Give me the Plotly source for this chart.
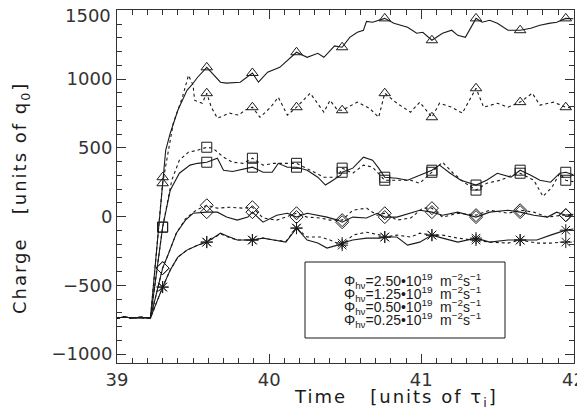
import plotly.graph_objects as go
import numpy as np

# ---------------- data ----------------
PRE_T = [39.00, 39.05, 39.10, 39.15, 39.22]
PRE_V = [-738, -731, -738, -733, -738]
MARK_T = [39.30, 39.59, 39.89, 40.18, 40.48, 40.76, 41.07, 41.36, 41.65, 41.95]

# Phi = 2.50e19 (triangles)
A_SOLID_T = [39.32, 39.35, 39.40, 39.46, 39.49, 39.53, 39.68, 39.72, 39.81, 39.93, 39.99, 40.07, 40.14,
             40.25, 40.32, 40.36, 40.43, 40.53, 40.58, 40.62, 40.64, 40.68, 40.82, 40.91, 40.97, 41.01,
             41.14, 41.20, 41.24, 41.29, 41.40, 41.45, 41.50, 41.57, 41.72, 41.78, 41.84, 41.89, 42.00]
A_SOLID_V = [482, 606, 773, 918, 955, 1013, 977, 970, 977, 977, 1050, 1085, 1151,
             1158, 1187, 1158, 1241, 1303, 1340, 1355, 1419, 1413, 1405, 1376, 1333, 1340,
             1333, 1355, 1318, 1303, 1413, 1427, 1405, 1355, 1369, 1391, 1405, 1413, 1438]
A_SOLID_MARK = [286, 1085, 1044, 1195, 1231, 1441, 1282, 1441, 1355, 1441]

A_DASH_T = [39.37, 39.43, 39.47, 39.50, 39.51, 39.56, 39.62, 39.66, 39.74, 39.80, 39.84, 39.94, 40.01,
            40.06, 40.12, 40.27, 40.36, 40.40, 40.45, 40.58, 40.66, 40.72, 40.84, 40.93, 40.99, 41.12,
            41.20, 41.27, 41.41, 41.50, 41.57, 41.73, 41.78, 41.87, 42.00]
A_DASH_V = [679, 868, 1028, 955, 846, 824, 795, 715, 752, 737, 773, 722, 795,
            868, 737, 897, 759, 845, 773, 832, 787, 722, 824, 759, 832, 824,
            795, 752, 795, 824, 795, 897, 810, 832, 787]
A_DASH_MARK = [242, 897, 795, 795, 773, 897, 722, 933, 832, 795]

# Phi = 1.25e19 (squares)
B_SOLID_T = [39.35, 39.41, 39.48, 39.53, 39.66, 39.70, 39.76, 39.86, 39.96, 40.02, 40.06, 40.12,
             40.25, 40.32, 40.37, 40.42, 40.47, 40.55, 40.62, 40.68, 40.72, 40.84, 40.91, 40.99, 41.12,
             41.19, 41.26, 41.43, 41.50, 41.59, 41.72, 41.78, 41.85, 41.91, 42.00]
B_SOLID_V = [192, 315, 374, 387, 424, 337, 328, 352, 322, 322, 387, 359,
             337, 286, 229, 264, 301, 352, 432, 410, 352, 279, 264, 301, 374,
             315, 264, 264, 315, 286, 301, 264, 250, 315, 304]
B_SOLID_MARK = [-77, 395, 359, 359, 322, 286, 337, 229, 337, 322]

B_DASH_T = [39.36, 39.41, 39.47, 39.53, 39.63, 39.70, 39.76, 39.83, 39.96, 40.03, 40.12, 40.27, 40.36,
            40.45, 40.55, 40.62, 40.68, 40.84, 40.93, 40.99, 41.14, 41.21, 41.28, 41.43, 41.52, 41.60,
            41.74, 41.80, 41.86, 41.91, 42.00]
B_DASH_V = [264, 410, 468, 482, 497, 432, 395, 387, 374, 387, 387, 337, 286,
            286, 315, 374, 359, 264, 264, 242, 395, 315, 250, 242, 264, 301,
            264, 146, 214, 315, 254]
B_DASH_MARK = [-77, 504, 424, 387, 352, 264, 322, 192, 315, 264]

# Phi = 0.50e19 (diamonds)
C_SOLID_T = [39.34, 39.39, 39.45, 39.50, 39.66, 39.72, 39.79, 39.86, 39.96, 40.05, 40.12, 40.25, 40.32,
             40.38, 40.45, 40.55, 40.64, 40.71, 40.84, 40.93, 40.99, 41.14, 41.24, 41.45, 41.57, 41.74,
             41.83, 41.89, 42.00]
C_SOLID_V = [-266, -121, -26, 24, 32, -4, -26, -4, -41, 10, 24, 24, 10,
             -4, -26, -4, -11, 24, -4, 24, 46, 10, 32, 32, 46, 10,
             -4, 32, 17]
C_SOLID_MARK = [-375, 32, 32, -4, -41, -4, 32, -4, 32, 10]

C_DASH_T = [39.34, 39.39, 39.45, 39.52, 39.66, 39.74, 39.83, 39.96, 40.05, 40.14, 40.25, 40.34, 40.40,
            40.55, 40.64, 40.71, 40.84, 40.93, 41.01, 41.14, 41.24, 41.45, 41.57, 41.74, 41.83, 41.93,
            42.00]
C_DASH_V = [-266, -121, -17, 46, 61, 68, 61, -11, -26, 10, -4, -11, -26,
            46, 61, 10, -26, -11, 61, -4, 24, 46, 24, 32, -4, 10,
            7]
C_DASH_MARK = [-375, 82, 68, 24, -26, 24, 61, 10, 46, 10]

# Phi = 0.25e19 (asterisks)
D_SOLID_T = [39.35, 39.40, 39.46, 39.53, 39.68, 39.72, 39.79, 39.96, 40.03, 40.11, 40.25, 40.32,
             40.38, 40.45, 40.55, 40.64, 40.73, 40.84, 40.91, 40.99, 41.14, 41.24, 41.45, 41.57, 41.76,
             41.85, 41.91, 42.00]
D_SOLID_V = [-389, -295, -244, -208, -121, -140, -171, -157, -171, -186, -171, -193,
             -229, -208, -171, -157, -157, -149, -208, -186, -157, -186, -186, -171, -171,
             -135, -114, -91]
D_SOLID_MARK = [-513, -186, -171, -84, -193, -149, -135, -157, -171, -99]

D_DASH_T = [39.35, 39.40, 39.46, 39.53, 39.68, 39.72, 39.79, 39.96, 40.03, 40.11, 40.25, 40.34,
            40.40, 40.55, 40.64, 40.73, 40.84, 40.93, 40.99, 41.14, 41.24, 41.45, 41.57, 41.76, 41.85,
            41.93, 42.00]
D_DASH_V = [-389, -295, -244, -208, -126, -145, -171, -157, -171, -180, -149, -149,
            -171, -135, -114, -135, -135, -149, -121, -135, -157, -186, -193, -193, -193,
            -186, -180]
D_DASH_MARK = [-513, -186, -171, -84, -208, -149, -135, -171, -171, -186]

X_TICKS = [39, 40, 41, 42]
Y_TICKS = [-1000, -500, 0, 500, 1000, 1500]
Y_TICK_TEXT = ["−1000", "−500", "0", "500", "1000", ""]   # top label drawn separately below
Y_TOP_LABEL = "1500"

LEGEND_LABELS = [
    "Φ<sub>hν</sub>=2.50•10<sup>19</sup>  m<sup>−2</sup>s<sup>−1</sup>",
    "Φ<sub>hν</sub>=1.25•10<sup>19</sup>  m<sup>−2</sup>s<sup>−1</sup>",
    "Φ<sub>hν</sub>=0.50•10<sup>19</sup>  m<sup>−2</sup>s<sup>−1</sup>",
    "Φ<sub>hν</sub>=0.25•10<sup>19</sup>  m<sup>−2</sup>s<sup>−1</sup>",
]
SYMBOLS = ["triangle-up-open", "square-open", "diamond-open", "asterisk-open"]

# ---------------- figure ----------------
# the page body keeps its default 8px margin, so the figure is sized to fit
OFF = 8
W, H = 585 - OFF, 416 - OFF
L, R, T, B = 117 - OFF, 11, 10 - OFF, 53
PW, PH = W - L - R, H - T - B
FONT = "DejaVu Sans"
LFONT = "Liberation Sans"
INK = "#1a1a1a"
TICKC = "#333"


def px2paper(px, py):
    """page pixel -> paper coordinate"""
    return (px - OFF - L) / PW, (H - B - (py - OFF)) / PH


def build(tl, vl, marks):
    t = np.array(PRE_T + MARK_T + tl)
    v = np.array(PRE_V + marks + vl)
    o = np.argsort(t, kind="stable")
    return t[o], v[o]


series = [
    (A_SOLID_T, A_SOLID_V, A_SOLID_MARK, A_DASH_T, A_DASH_V, A_DASH_MARK, SYMBOLS[0]),
    (B_SOLID_T, B_SOLID_V, B_SOLID_MARK, B_DASH_T, B_DASH_V, B_DASH_MARK, SYMBOLS[1]),
    (C_SOLID_T, C_SOLID_V, C_SOLID_MARK, C_DASH_T, C_DASH_V, C_DASH_MARK, SYMBOLS[2]),
    (D_SOLID_T, D_SOLID_V, D_SOLID_MARK, D_DASH_T, D_DASH_V, D_DASH_MARK, SYMBOLS[3]),
]

fig = go.Figure()
for st, sv, sm, dt, dv, dm, sym in series:
    for tl, vl, mk, dash in ((dt, dv, dm, "3px,3px"), (st, sv, sm, "solid")):
        t, v = build(tl, vl, mk)
        fig.add_trace(go.Scatter(x=t, y=v, mode="lines",
                                 line=dict(color=INK, width=1.1, dash=dash),
                                 showlegend=False, hoverinfo="skip"))
        fig.add_trace(go.Scatter(x=MARK_T, y=mk, mode="markers",
                                 marker=dict(symbol=sym, size=10, color=INK,
                                             line=dict(color=INK, width=1)),
                                 showlegend=False, hoverinfo="skip"))

# legend (manual, IDL style)
box_x0, box_y0 = px2paper(305, 338)
box_x1, box_y1 = px2paper(505, 262)
fig.add_shape(type="rect", xref="paper", yref="paper",
              x0=box_x0, y0=box_y0, x1=box_x1, y1=box_y1,
              line=dict(color=INK, width=1), fillcolor="white", layer="above")
row_py = [281, 294, 307, 320]
sym_x = [px2paper(322, py)[0] for py in row_py]
sym_y = [px2paper(322, py)[1] for py in row_py]
fig.add_trace(go.Scatter(x=sym_x, y=sym_y, xaxis="x2", yaxis="y2", mode="markers",
                         marker=dict(symbol=SYMBOLS, size=10, color=INK, line=dict(color=INK, width=1)),
                         showlegend=False, hoverinfo="skip", cliponaxis=False))
for lab, py in zip(LEGEND_LABELS, row_py):
    ax, ay = px2paper(342, py)
    fig.add_annotation(x=ax, y=ay, xref="paper", yref="paper", text=lab, showarrow=False,
                       xanchor="left", yanchor="middle", font=dict(family=LFONT, size=14, color=INK))

# top y tick label, nudged down so it stays inside the page like in the reference
lx, ly = px2paper(112, 16)
fig.add_annotation(x=lx, y=ly, xref="paper", yref="paper", text=Y_TOP_LABEL, showarrow=False,
                   xanchor="right", yanchor="middle", borderpad=0,
                   font=dict(family=FONT, size=18, color=TICKC))

# axis titles
tx, ty = px2paper(396, 398)
fig.add_annotation(x=tx, y=ty, xref="paper", yref="paper",
                   text='<span style="letter-spacing:2px">Time   [units of τ<sub>i</sub>]</span>',
                   showarrow=False, xanchor="center", yanchor="middle",
                   font=dict(family=FONT, size=18, color=INK))
yx, yy = px2paper(21, 198)
fig.add_annotation(x=yx, y=yy, xref="paper", yref="paper",
                   text='<span style="letter-spacing:2px">Charge   [units of q<sub>0</sub>]</span>',
                   showarrow=False, textangle=-90, xanchor="center", yanchor="middle",
                   font=dict(family=FONT, size=18, color=INK))

axis_common = dict(showgrid=False, zeroline=False, showline=True, linecolor=TICKC, linewidth=1,
                   mirror="ticks", ticks="inside", tickcolor=TICKC, tickwidth=1, ticklen=9,
                   automargin=False, ticklabeloverflow="allow",
                   tickfont=dict(family=FONT, size=18, color=TICKC))
fig.update_layout(
    width=W, height=H, margin=dict(l=L, r=R, t=T, b=B, autoexpand=False),
    paper_bgcolor="white", plot_bgcolor="white",
    xaxis=dict(range=[39, 42.004], tickvals=X_TICKS, ticktext=[str(x) for x in X_TICKS],
               minor=dict(dtick=0.1, ticks="inside", ticklen=5, tickcolor=TICKC),
               **axis_common),
    yaxis=dict(range=[-1065, 1502], tickvals=Y_TICKS, ticktext=Y_TICK_TEXT,
               minor=dict(dtick=100, ticks="inside", ticklen=5, tickcolor=TICKC),
               **axis_common),
    xaxis2=dict(overlaying="x", range=[0, 1], visible=False, fixedrange=True),
    yaxis2=dict(overlaying="y", range=[0, 1], visible=False, fixedrange=True),
    showlegend=False,
)

fig.write_html("out.html")
